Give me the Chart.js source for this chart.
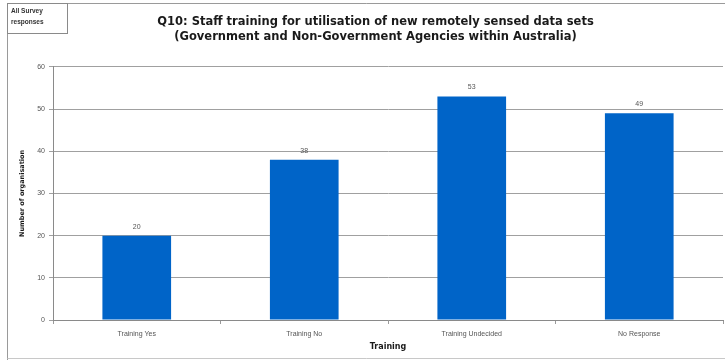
<!DOCTYPE html>
<html>
<head>
<meta charset="utf-8">
<script src="https://cdn.jsdelivr.net/npm/chart.js@4/dist/chart.umd.min.js"></script>
<style>
  html, body { margin: 0; padding: 0; background: #fff; }
  #wrap { width: 725px; height: 361px; position: relative; }
  canvas { filter: blur(0.5px); }
</style>
</head>
<body>
<div id="wrap"><canvas id="chart" width="725" height="361"></canvas></div>
<script>
const categories = ["Training Yes", "Training No", "Training Undecided", "No Response"];
const counts = [20, 38, 53, 49];
const yTicks = [0, 10, 20, 30, 40, 50, 60];
const titleLines = [
  "Q10: Staff training for utilisation of new remotely sensed data sets",
  "(Government and Non-Government Agencies within Australia)"
];
const noteLines = ["All Survey", "responses"];

const FONT = "'Liberation Sans', Arial, sans-serif";
const TITLE_FONT = "'DejaVu Sans', 'Liberation Sans', sans-serif";

// frame round the whole chart plus the small note box in the corner
const framePlugin = {
  id: "frame",
  afterDraw(chart) {
    const c = chart.ctx;
    c.save();
    c.strokeStyle = "#9a9a9a";
    c.lineWidth = 1;
    c.beginPath();
    c.moveTo(7.5, 360);
    c.lineTo(7.5, 3.5);
    c.lineTo(725, 3.5);
    c.stroke();
    c.strokeStyle = "#c8c8c8";
    c.beginPath();
    c.moveTo(7.5, 358.5);
    c.lineTo(725, 358.5);
    c.stroke();
    c.strokeStyle = "#8a8a8a";
    c.strokeRect(7.5, 3.5, 60, 30);
    c.fillStyle = "#333";
    c.font = "bold 6.5px " + FONT;
    c.textBaseline = "middle";
    c.fillText(noteLines[0], 11, 11);
    c.fillText(noteLines[1], 11, 22);
    c.restore();
  }
};

// value printed above each bar
const valueLabels = {
  id: "valueLabels",
  afterDatasetsDraw(chart) {
    const c = chart.ctx;
    const meta = chart.getDatasetMeta(0);
    c.save();
    c.fillStyle = "#555";
    c.font = "7px " + FONT;
    c.textAlign = "center";
    c.textBaseline = "middle";
    meta.data.forEach((bar, i) => {
      c.fillText(String(counts[i]), bar.x, bar.y - 9);
    });
    c.restore();
  }
};

new Chart(document.getElementById("chart"), {
  type: "bar",
  data: {
    labels: categories,
    datasets: [{
      data: counts,
      backgroundColor: "#0064c8",
      borderWidth: 0,
      categoryPercentage: 1,
      barPercentage: 0.41
    }]
  },
  options: {
    responsive: false,
    animation: false,
    // left padding pushes the title centre to the right; the y axis is narrowed to match
    layout: { padding: { left: 28, right: 2, top: 0, bottom: 0 } },
    plugins: {
      legend: { display: false },
      tooltip: { enabled: false },
      title: {
        display: true,
        text: titleLines,
        color: "#1a1a1a",
        font: { family: TITLE_FONT, size: 11.5, weight: "bold", lineHeight: 1.3 },
        padding: { top: 15, bottom: 22 }
      }
    },
    scales: {
      x: {
        grid: {
          offset: true,
          drawOnChartArea: false,
          color: "#9a9a9a",
          tickLength: 4
        },
        border: { color: "#8a8a8a" },
        ticks: {
          color: "#555",
          font: { family: FONT, size: 7 },
          padding: 6,
          maxRotation: 0
        },
        title: {
          display: true,
          text: "Training",
          color: "#1a1a1a",
          font: { family: TITLE_FONT, size: 8, weight: "bold" },
          padding: { top: 2, bottom: 9 }
        },
        afterFit(scale) { scale.height = 41; }
      },
      y: {
        min: 0,
        max: 60,
        afterBuildTicks(scale) { scale.ticks = yTicks.map(v => ({ value: v })); },
        grid: { color: "#a0a0a0", tickLength: 4 },
        border: { color: "#8a8a8a" },
        ticks: {
          color: "#555",
          font: { family: FONT, size: 7 },
          padding: 4
        },
        title: {
          display: true,
          text: "Number of organisation",
          color: "#1a1a1a",
          font: { family: TITLE_FONT, size: 6.5, weight: "bold" },
          padding: { top: -10, bottom: 0 }
        },
        afterFit(scale) { scale.width = 25; }
      }
    }
  },
  plugins: [framePlugin, valueLabels]
});
</script>
</body>
</html>
